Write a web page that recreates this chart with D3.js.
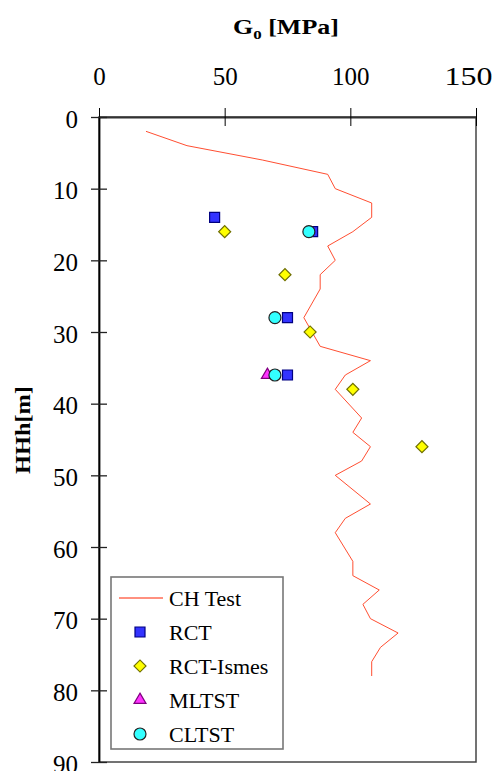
<!DOCTYPE html>
<html>
<head>
<meta charset="utf-8">
<script src="https://cdn.jsdelivr.net/npm/d3@7"></script>
<style>
  body { margin: 0; background: #fff; }
  svg { display: block; font-family: "Liberation Serif", "Times New Roman", serif; }
</style>
</head>
<body>
<div id="chart"></div>
<script>
// CH test profile (depth in m, G0 in MPa)
const chDepth = [2, 4, 6, 8, 10, 12, 14, 16, 18, 20, 22, 24, 28, 32, 34, 36, 38, 42, 44, 46, 48, 50, 54, 56, 58, 62, 64, 66, 68, 70, 72, 74, 76, 78];
const chG = [18.7, 35, 65, 91, 94, 108.5, 108.5, 101, 91, 94, 88, 88, 81.5, 88, 108, 98, 94, 104.5, 101, 108, 104.5, 94, 108, 98, 94, 101, 101, 111.5, 105, 108, 119, 112, 108.5, 108.5];

// lab tests
const rctDepth = [14, 16, 28, 36];
const rctG = [46, 85, 75, 75];
const ismesDepth = [16, 22, 30, 38, 46];
const ismesG = [50, 74, 84, 101, 128.5];
const mltstDepth = [36];
const mltstG = [67];
const cltstDepth = [16, 28, 36];
const cltstG = [83.5, 70, 70];

const xTicks = [0, 50, 100, 150];
const yTicks = [0, 10, 20, 30, 40, 50, 60, 70, 80, 90];
const legendLabels = ["CH Test", "RCT", "RCT-Ismes", "MLTST", "CLTST"];

var w = 499, h = 771;
var svg = d3.select("#chart").append("svg")
  .attr("width", w)
  .attr("height", h);

var x = d3.scaleLinear().domain([0, 150]).range([99, 476]);
var y = d3.scaleLinear().domain([0, 90]).range([117, 762]);

// frame (right + bottom)
svg.append("rect")
  .attr("x", x(0)).attr("y", y(0))
  .attr("width", x(150) - x(0)).attr("height", y(90) - y(0))
  .attr("fill", "none")
  .attr("stroke", "#444")
  .attr("stroke-width", 1.5);

// top axis
var xAxis = svg.append("g")
  .attr("transform", "translate(0," + y(0) + ")")
  .call(d3.axisTop(x).tickValues(xTicks).tickSizeInner(9).tickSizeOuter(0).tickPadding(23));
xAxis.selectAll(".tick line").attr("y1", 9).attr("stroke", "#000");
xAxis.select(".domain").attr("stroke", "#333").attr("stroke-width", 2);
xAxis.selectAll(".tick text")
  .attr("font-size", 25)
  .attr("font-family", "Liberation Serif, Times New Roman, serif")
  .attr("fill", "#000");
// last label is pushed in from the edge, as in the original
xAxis.selectAll(".tick text").filter(d => d === 150)
  .attr("x", -8).attr("textLength", 48).attr("lengthAdjust", "spacingAndGlyphs");

// left axis
var yAxis = svg.append("g")
  .attr("transform", "translate(" + x(0) + ",0)")
  .call(d3.axisLeft(y).tickValues(yTicks).tickSizeInner(8).tickSizeOuter(0).tickPadding(13));
yAxis.selectAll(".tick line").attr("x1", 8).attr("stroke", "#222").attr("stroke-width", 1.3);
yAxis.select(".domain").attr("stroke", "#000").attr("stroke-width", 1.8);
yAxis.selectAll(".tick text")
  .attr("font-size", 25)
  .attr("dy", "0.4em")
  .attr("font-family", "Liberation Serif, Times New Roman, serif")
  .attr("fill", "#000");

// title
var title = svg.append("text")
  .attr("x", 286).attr("y", 34)
  .attr("text-anchor", "middle")
  .attr("font-size", 20)
  .attr("font-weight", "bold")
  .attr("transform", "translate(286,0) scale(1.3,1) translate(-286,0)");
title.append("tspan").text("G");
title.append("tspan").attr("font-size", 13).attr("dy", 5).text("0");
title.append("tspan").attr("dy", -5).text(" [MPa]");

// y label (garbled in original)
svg.append("text")
  .attr("transform", "translate(30,430) rotate(-90)")
  .attr("text-anchor", "middle")
  .attr("font-size", 22)
  .attr("font-weight", "bold")
  .attr("textLength", 88)
  .attr("lengthAdjust", "spacingAndGlyphs")
  .text("HHh[m]");

// CH Test line
var chData = chDepth.map((d, i) => [chG[i], d]);
var line = d3.line().x(d => x(d[0])).y(d => y(d[1]));
svg.append("path")
  .datum(chData)
  .attr("d", line)
  .attr("fill", "none")
  .attr("stroke", "#ff3a1a")
  .attr("stroke-width", 0.9);

// marker styles
var styles = {
  rct: { path: d3.symbol().type(d3.symbolSquare).size(100)(), fill: "#3333ff", stroke: "#000080", rot: 0 },
  ismes: { path: d3.symbol().type(d3.symbolSquare).size(72)(), fill: "#ffff00", stroke: "#707000", rot: 45 },
  mltst: { path: d3.symbol().type(d3.symbolTriangle).size(62)(), fill: "#ff33ff", stroke: "#800080", rot: 0 },
  cltst: { path: d3.symbol().type(d3.symbolCircle).size(113)(), fill: "#33ffff", stroke: "#222", rot: 0 }
};

function drawSeries(gs, ds, st) {
  svg.append("g").selectAll("path")
    .data(gs.map((g, i) => [g, ds[i]]))
    .enter()
    .append("path")
    .attr("d", st.path)
    .attr("transform", d => "translate(" + x(d[0]) + "," + y(d[1]) + ") rotate(" + st.rot + ")")
    .attr("fill", st.fill)
    .attr("stroke", st.stroke)
    .attr("stroke-width", 1.2);
}
drawSeries(rctG, rctDepth, styles.rct);
drawSeries(ismesG, ismesDepth, styles.ismes);
drawSeries(mltstG, mltstDepth, styles.mltst);
drawSeries(cltstG, cltstDepth, styles.cltst);

// legend
var lg = svg.append("g");
lg.append("rect")
  .attr("x", 111).attr("y", 577)
  .attr("width", 172).attr("height", 172)
  .attr("fill", "#fff")
  .attr("stroke", "#777")
  .attr("stroke-width", 1.6);

var legendStyles = [null, styles.rct, styles.ismes, styles.mltst, styles.cltst];
legendLabels.forEach(function(lab, i) {
  var cy = 598 + i * 34;
  if (i === 0) {
    lg.append("line")
      .attr("x1", 119).attr("x2", 163)
      .attr("y1", cy).attr("y2", cy)
      .attr("stroke", "#ff2200").attr("stroke-width", 1);
  } else {
    var st = legendStyles[i];
    lg.append("path")
      .attr("d", st.path)
      .attr("transform", "translate(140," + cy + ") rotate(" + st.rot + ")")
      .attr("fill", st.fill)
      .attr("stroke", st.stroke)
      .attr("stroke-width", 1.2);
  }
  lg.append("text")
    .attr("x", 169).attr("y", cy + 8)
    .attr("font-size", 22)
    .attr("fill", "#000")
    .text(lab);
});
</script>
</body>
</html>
